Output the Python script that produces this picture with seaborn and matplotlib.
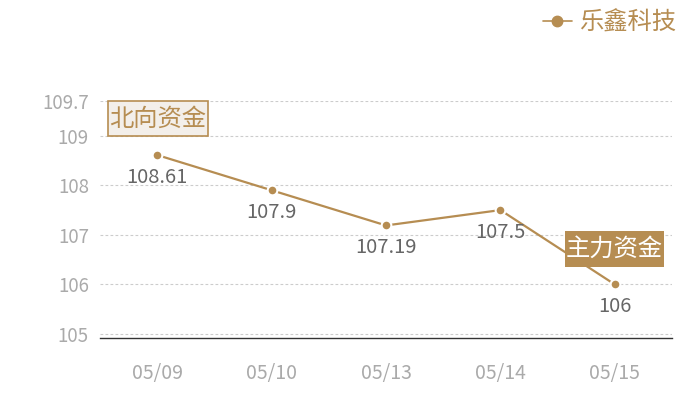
import matplotlib
matplotlib.use("Agg")
import matplotlib.pyplot as plt
import seaborn as sns
import pandas as pd
from matplotlib.patches import Rectangle
from matplotlib.lines import Line2D

dates = ["05/09", "05/10", "05/13", "05/14", "05/15"]
values = [108.61, 107.9, 107.19, 107.5, 106]
series_name = "乐鑫科技"
yticks = [105, 106, 107, 108, 109, 109.7]

gold = "#b68d52"

sns.set_theme(style="white")
plt.rcParams['font.family'] = ['Noto Sans CJK SC', 'DejaVu Sans']

df = pd.DataFrame({"date": dates, "value": values})
df["x"] = range(len(df))

W, H = 700, 400
fig = plt.figure(figsize=(7, 4), dpi=100)
ax = fig.add_axes([100 / W, 0.155, 572 / W, 0.5925])

sns.lineplot(data=df, x="x", y="value", ax=ax, color=gold, linewidth=1.6,
             marker="o", markersize=7, markeredgecolor="white", markeredgewidth=1.5,
             legend=False)

for xi, v in zip(df["x"], df["value"]):
    ax.annotate(f"{v:g}", (xi, v), xytext=(0, -16), textcoords="offset points",
                ha="center", va="center", fontsize=14.5, color="#666666")

ax.set_xlim(-0.5, len(dates) - 0.5)
ax.set_ylim(104.92, 109.7)
ax.set_xticks(df["x"])
ax.set_xticklabels(dates)
ax.set_yticks(yticks)
ax.set_yticklabels([f"{t:g}" for t in yticks])
ax.tick_params(axis="both", length=0, labelsize=13.5, labelcolor="#aaaaaa")
ax.tick_params(axis="x", labelsize=14, pad=18)
ax.tick_params(axis="y", pad=8)
ax.set_xlabel("")
ax.set_ylabel("")

for t in yticks:
    ax.axhline(t, color="#cccccc", linewidth=0.8, linestyle=(0, (2.5, 2)), zorder=0)

for s in ["top", "right", "left"]:
    ax.spines[s].set_visible(False)
ax.spines["bottom"].set_color("#333333")
ax.spines["bottom"].set_linewidth(1)


def tag(x0, y0, x1, y1, text, face, edge, color):
    # box given in pixel coords from the top-left corner
    fig.patches.append(Rectangle((x0 / W, 1 - y1 / H), (x1 - x0) / W, (y1 - y0) / H,
                                 transform=fig.transFigure, facecolor=face,
                                 edgecolor=edge, linewidth=1.2, zorder=5))
    fig.text((x0 + x1) / 2 / W, 1 - (y0 + y1) / 2 / H, text, ha="center", va="center",
             fontsize=17.5, color=color, zorder=6)


tag(108, 101, 208, 136, "北向资金", "#f3efea", gold, gold)
tag(565, 231, 664, 267, "主力资金", gold, "none", "white")

# legend
handle = Line2D([], [], color=gold, linewidth=1.2, marker="o", markersize=7.5,
                markeredgecolor=gold)
fig.legend(handles=[handle], labels=[series_name], loc="upper right",
           bbox_to_anchor=(0.997, 1.03), frameon=False, fontsize=17.5,
           handlelength=1.2, handletextpad=0.3, labelcolor=gold)

fig.savefig("out.png", dpi=100)
